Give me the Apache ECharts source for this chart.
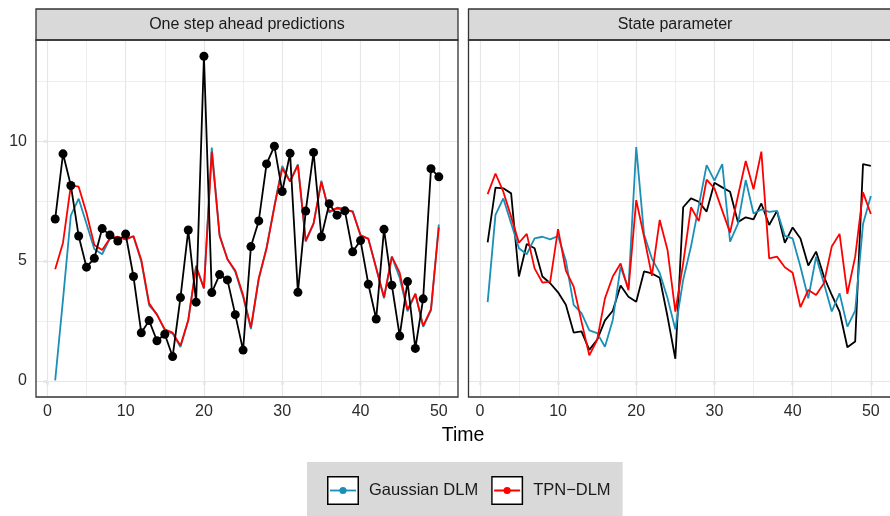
<!DOCTYPE html>
<html><head><meta charset="utf-8">
<script src="https://cdn.jsdelivr.net/npm/echarts@6/dist/echarts.min.js"></script>
<style>html,body{margin:0;padding:0;background:#fff}#c{width:890px;height:516px}</style>
</head><body><div id="c"></div>
<script>
const time = [1,2,3,4,5,6,7,8,9,10,11,12,13,14,15,16,17,18,19,20,21,22,23,24,25,26,27,28,29,30,31,32,33,34,35,36,37,38,39,40,41,42,43,44,45,46,47,48,49,50];

// Left panel: one step ahead predictions
const observed = [6.75,9.47,8.15,6.04,4.74,5.11,6.35,6.08,5.83,6.12,4.35,2.0,2.51,1.67,1.94,1.01,3.47,6.29,3.28,13.54,3.68,4.43,4.21,2.76,1.28,5.6,6.67,9.05,9.79,7.9,9.49,3.69,7.08,9.53,6.01,7.39,6.91,7.09,5.38,5.85,4.03,2.58,6.32,3.99,1.87,4.14,1.35,3.42,8.85,8.51];
const gaussPred = [0.02,3.4,6.9,7.6,6.55,5.5,5.28,5.94,6.0,5.9,6.02,4.98,3.15,2.78,2.1,1.97,1.41,2.52,4.8,3.85,9.73,6.08,5.08,4.55,3.5,2.16,4.23,5.55,7.3,8.97,8.33,9.03,5.81,6.55,8.35,7.02,7.18,7.1,7.08,6.05,5.93,4.72,3.44,5.18,4.3,2.9,3.63,2.25,2.94,6.52];
const tpnPred = [4.65,5.76,8.15,8.1,7.0,5.67,5.46,5.95,6.01,5.9,6.04,5.04,3.23,2.75,2.15,2.01,1.46,2.54,4.76,3.86,9.55,6.04,5.07,4.6,3.58,2.22,4.28,5.53,7.26,8.86,8.31,9.0,5.85,6.57,8.3,7.05,7.22,7.17,7.05,6.08,5.92,4.69,3.49,5.18,4.51,2.96,3.63,2.29,2.99,6.4];

// Right panel: state parameter
const stateTrue = [5.78,8.06,8.03,7.82,4.35,5.71,5.53,4.35,4.07,3.69,3.17,2.01,2.06,1.29,1.71,2.52,2.92,3.98,3.51,3.3,4.56,4.48,4.3,2.68,0.92,7.24,7.61,7.47,7.06,8.26,8.07,7.89,6.62,6.82,6.74,7.4,6.5,7.09,5.76,6.4,5.94,4.81,5.39,4.35,3.58,2.89,1.4,1.64,9.04,8.97];
const stateGauss = [3.28,6.92,7.61,6.57,5.53,5.28,5.94,6.01,5.9,6.04,5.01,3.17,2.82,2.1,1.99,1.42,2.54,4.75,3.85,9.75,6.1,5.1,4.5,3.45,2.15,4.21,5.6,7.3,9.0,8.35,9.04,5.81,6.55,8.375,6.98,7.15,7.05,7.09,6.05,5.94,4.76,3.44,5.18,4.07,2.89,3.65,2.26,2.93,6.54,7.71];
const stateTpn = [7.79,8.65,7.89,6.85,5.76,6.13,4.69,4.1,4.14,6.33,4.6,3.93,2.47,1.06,1.71,3.44,4.35,4.89,3.78,7.54,6.01,4.38,6.71,5.46,2.89,4.9,7.24,6.66,8.39,8.03,7.1,6.18,7.7,9.17,7.99,9.56,5.11,5.18,4.74,4.51,3.07,3.79,3.58,4.07,5.6,6.13,3.63,5.18,7.86,6.96];

const xTicks = [0,10,20,30,40,50];
const xMinor = [5,15,25,35,45];
const yTicks = [0,5,10];
const yMinor = [2.5,7.5,12.5];
const panelTitles = ['One step ahead predictions','State parameter'];
const seriesNames = ['Gaussian DLM','TPN\u2212DLM'];
const axisTitle = 'Time';

const FONT = "'Liberation Sans', Arial, Helvetica, sans-serif";
const BLUE = '#1b8fb6', RED = '#ff0000', BLACK = '#000000';
const pair = v => v.map((y,i)=>[time[i], y]);

function gridMarks(){
  const d = [];
  xTicks.forEach(v=>d.push({xAxis:v, lineStyle:{width:1.2}}));
  xMinor.forEach(v=>d.push({xAxis:v, lineStyle:{width:0.7}}));
  yTicks.forEach(v=>d.push({yAxis:v, lineStyle:{width:1.2}}));
  yMinor.forEach(v=>d.push({yAxis:v, lineStyle:{width:0.7}}));
  return {silent:true, symbol:['none','none'], z:1, label:{show:false}, animation:false,
    lineStyle:{color:'#e6e6e6', type:'solid'}, emphasis:{disabled:true}, data:d};
}

function icon(color){
  const svg = '<svg xmlns="http://www.w3.org/2000/svg" width="37" height="29">'+
   '<rect x="0.75" y="0.75" width="30.5" height="27.5" fill="#ffffff" stroke="#000000" stroke-width="1.5"/>'+
   '<line x1="3" y1="14.5" x2="29" y2="14.5" stroke="'+color+'" stroke-width="1.8"/>'+
   '<circle cx="16" cy="14.5" r="3.6" fill="'+color+'"/></svg>';
  return 'image://data:image/svg+xml;charset=utf-8,' + encodeURIComponent(svg);
}

const G = [{left:36, top:40, width:422, height:357},{left:468.5, top:40, width:423, height:357}];

function xAx(i){
  return {type:'value', gridIndex:i, min:-1.45, max:52.45,
    splitLine:{show:false}, minorTick:{show:false}, axisLine:{show:false},
    axisTick:{show:true, length:4, customValues:xTicks, lineStyle:{color:'#333', width:1.2}},
    axisLabel:{show:true, customValues:xTicks, fontSize:16, color:'#2b2b2b', margin:7, fontFamily:FONT}};
}
function yAx(i){
  return {type:'value', gridIndex:i, min:-0.677, max:14.22,
    splitLine:{show:false}, minorTick:{show:false}, axisLine:{show:false},
    axisTick:{show:i===0, length:4, customValues:yTicks, lineStyle:{color:'#333', width:1.2}},
    axisLabel:{show:i===0, customValues:yTicks, fontSize:16, color:'#2b2b2b', margin:9, fontFamily:FONT}};
}

function lineS(name, data, color, gi, z, opts){
  return Object.assign({name, type:'line', xAxisIndex:gi, yAxisIndex:gi, data:pair(data),
    z, symbol:'none', showSymbol:false, silent:true, animation:false,
    lineStyle:{color, width:1.8}, itemStyle:{color}, emphasis:{disabled:true}}, opts||{});
}

const series = [
  lineS(seriesNames[0], gaussPred, BLUE, 0, 2, {markLine:gridMarks()}),
  lineS(seriesNames[1], tpnPred, RED, 0, 3),
  lineS('Observed', observed, BLACK, 0, 4, {symbol:'circle', showSymbol:true, symbolSize:9}),
  lineS('State', stateTrue, BLACK, 1, 2, {markLine:gridMarks()}),
  lineS(seriesNames[0], stateGauss, BLUE, 1, 3),
  lineS(seriesNames[1], stateTpn, RED, 1, 4)
];

const graphic = [];
G.forEach((g,i)=>{
  graphic.push({type:'rect', z:100, shape:{x:g.left, y:9, width:g.width, height:31},
    style:{fill:'#d9d9d9', stroke:'#333', lineWidth:1.3}});
  graphic.push({type:'text', z:101, x:g.left+g.width/2 - (i===1?5:0), y:24.5,
    style:{text:panelTitles[i], font:'16px '+FONT, fill:'#1a1a1a', align:'center', verticalAlign:'middle'}});
  graphic.push({type:'rect', z:100, shape:{x:g.left, y:g.top, width:g.width, height:g.height},
    style:{fill:'none', stroke:'#333', lineWidth:1.3}});
});
graphic.push({type:'text', z:101, x:463, y:436,
  style:{text:axisTitle, font:'19.5px '+FONT, fill:'#000', align:'center', verticalAlign:'middle'}});

const chart = echarts.init(document.getElementById('c'), null, {renderer:'canvas'});
chart.setOption({
  animation:false,
  backgroundColor:'#ffffff',
  grid:G.map(g=>Object.assign({containLabel:false, show:false}, g)),
  xAxis:[xAx(0), xAx(1)],
  yAxis:[yAx(0), yAx(1)],
  legend:{left:307, top:462, padding:[14,12,12,20], backgroundColor:'#d9d9d9',
    itemWidth:37, itemHeight:29, itemGap:13, selectedMode:false,
    textStyle:{fontSize:16.5, color:'#1a1a1a', fontFamily:FONT},
    data:[{name:seriesNames[0], icon:icon(BLUE)},{name:seriesNames[1], icon:icon(RED)}]},
  graphic:graphic,
  series:series
});
</script></body></html>
